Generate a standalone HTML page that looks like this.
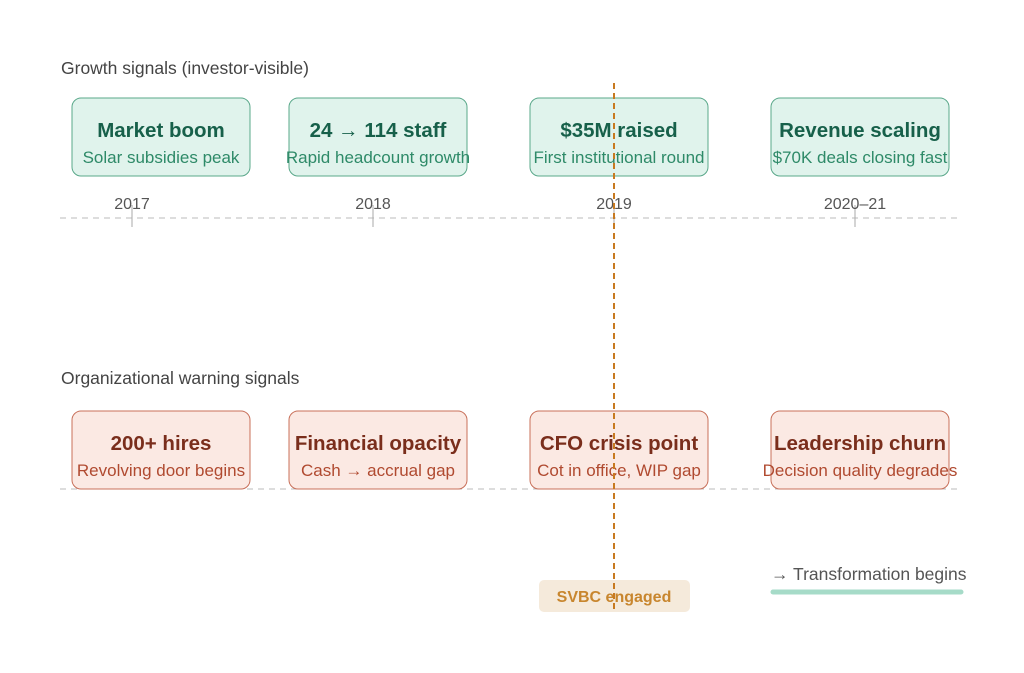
<!DOCTYPE html>
<html><head><meta charset="utf-8"><style>
body{margin:0;background:#fff}
svg{display:block;font-family:"Liberation Sans","DejaVu Sans",sans-serif}
</style></head><body>
<svg width="1024" height="673" viewBox="0 0 1024 673" xmlns="http://www.w3.org/2000/svg">
<rect width="1024" height="673" fill="#fff"/>
<text x="61" y="74" font-size="17.5" fill="#444">Growth signals (investor-visible)</text>
<text x="61" y="384" font-size="17.5" fill="#444">Organizational warning signals</text>
<line x1="60" y1="218" x2="960" y2="218" stroke="#bbb" stroke-dasharray="6,5"/>
<line x1="60" y1="489" x2="960" y2="489" stroke="#bbb" stroke-dasharray="6,5"/>
<g stroke="#aaa"><line x1="132" y1="205" x2="132" y2="227"/><line x1="373" y1="205" x2="373" y2="227"/><line x1="614" y1="205" x2="614" y2="227"/><line x1="855" y1="205" x2="855" y2="227"/></g>
<g font-size="16" fill="#555" text-anchor="middle"><text x="132" y="209">2017</text><text x="373" y="209">2018</text><text x="614" y="209">2019</text><text x="855" y="209">2020–21</text></g>
<g fill="#e0f3ec" stroke="#5aa88a">
<rect x="72" y="98" width="178" height="78" rx="9"/><rect x="289" y="98" width="178" height="78" rx="9"/><rect x="530" y="98" width="178" height="78" rx="9"/><rect x="771" y="98" width="178" height="78" rx="9"/></g>
<g text-anchor="middle">
<g font-size="20.5" font-weight="bold" fill="#17604a"><text x="161" y="137">Market boom</text><text x="378" y="137">24 → 114 staff</text><text x="619" y="137">$35M raised</text><text x="860" y="137">Revenue scaling</text></g>
<g font-size="17" fill="#2e8a68"><text x="161" y="163">Solar subsidies peak</text><text x="378" y="163">Rapid headcount growth</text><text x="619" y="163">First institutional round</text><text x="860" y="163">$70K deals closing fast</text></g>
</g>
<g fill="#fbe9e3" stroke="#c8705a">
<rect x="72" y="411" width="178" height="78" rx="9"/><rect x="289" y="411" width="178" height="78" rx="9"/><rect x="530" y="411" width="178" height="78" rx="9"/><rect x="771" y="411" width="178" height="78" rx="9"/></g>
<g text-anchor="middle">
<g font-size="20.5" font-weight="bold" fill="#7a2e1c"><text x="161" y="450">200+ hires</text><text x="378" y="450">Financial opacity</text><text x="619" y="450">CFO crisis point</text><text x="860" y="450">Leadership churn</text></g>
<g font-size="17" fill="#b04a30"><text x="161" y="476">Revolving door begins</text><text x="378" y="476">Cash → accrual gap</text><text x="619" y="476">Cot in office, WIP gap</text><text x="860" y="476">Decision quality degrades</text></g>
</g>
<rect x="539" y="580" width="151" height="32" rx="5" fill="#f5eadb"/>
<text x="614" y="602" font-size="16" font-weight="bold" fill="#c8862e" text-anchor="middle">SVBC engaged</text>
<line x1="614" y1="83" x2="614" y2="610" stroke="#c87a20" stroke-width="2" stroke-dasharray="6,4"/>
<text x="771" y="580" font-size="17.5" fill="#555">→ Transformation begins</text>
<line x1="773" y1="592" x2="961" y2="592" stroke="#a6dbc8" stroke-width="5" stroke-linecap="round"/>
</svg>
</body></html>
